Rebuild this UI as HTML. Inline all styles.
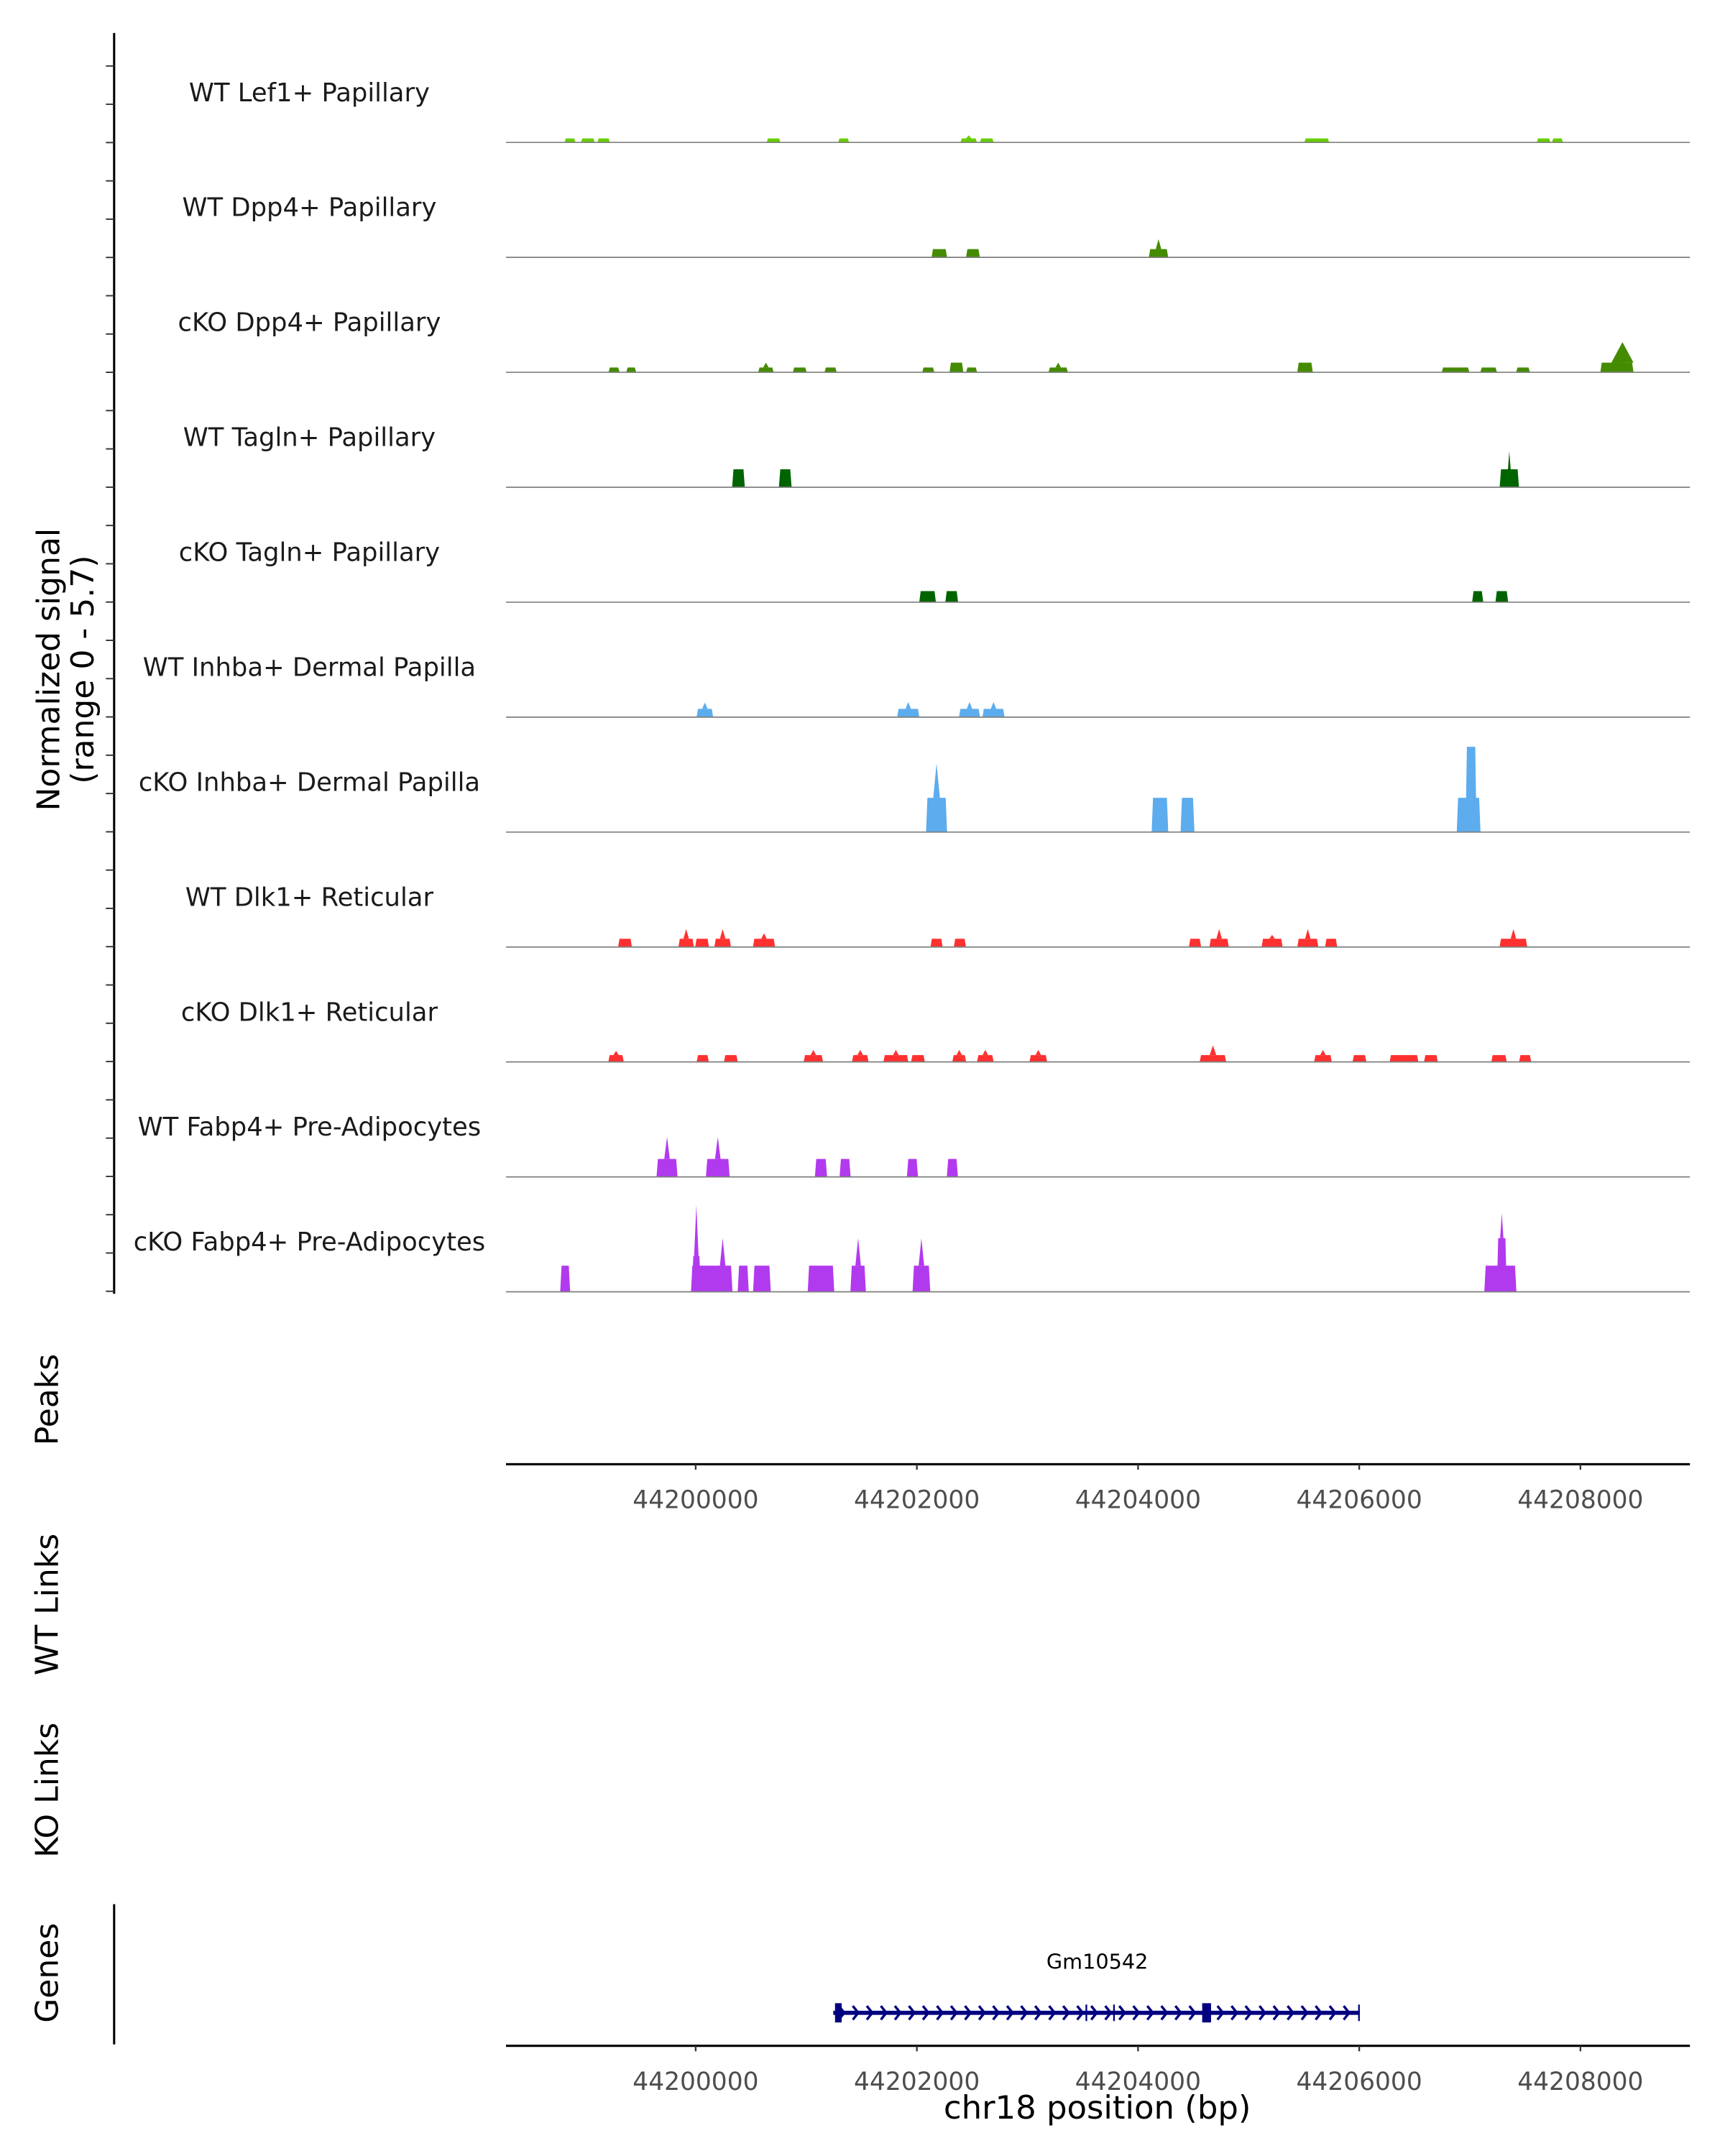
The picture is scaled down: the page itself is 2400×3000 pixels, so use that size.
<!DOCTYPE html>
<html><head><meta charset="utf-8">
<style>
html,body{margin:0;padding:0;background:#fff;}
svg{display:block;font-family:"DejaVu Sans","Liberation Sans",sans-serif;}
</style></head>
<body>
<svg id="chart" width="2400" height="3000" viewBox="0 0 1240 1550" xmlns="http://www.w3.org/2000/svg">
<g transform="scale(0.98843)">
<g id="tracks"></g>
<g id="frame"></g>
</g>
</svg>
<script>
// ---- data ----
const trackNames = ["WT Lef1+ Papillary","WT Dpp4+ Papillary","cKO Dpp4+ Papillary","WT Tagln+ Papillary","cKO Tagln+ Papillary","WT Inhba+ Dermal Papilla","cKO Inhba+ Dermal Papilla","WT Dlk1+ Reticular","cKO Dlk1+ Reticular","WT Fabp4+ Pre-Adipocytes","cKO Fabp4+ Pre-Adipocytes"];
const trackColors = ["#66CD00","#458B00","#458B00","#006400","#006400","#5CACEE","#5CACEE","#FF3030","#FF3030","#B23AEE","#B23AEE"];
const signalMax = 5.7;
const xTicks = [44200000,44202000,44204000,44206000,44208000];
const xDomain = [44198285,44208990];
const O = 44200000;
// peaks: [centerBp, widthBp, height, spikeHeight, spikeWidthBp]
const peaksLef1 = [[O-1136,100,0.2],[O-975,125,0.2],[O-832,113,0.2],[O+704,125,0.2],[O+1338,100,0.2],[O+2469,150,0.2,0.35],[O+2632,125,0.2],[O+5616,225,0.2],[O+7667,125,0.2],[O+7792,100,0.2]];
const peaksDpp4WT = [[O+2203,140,0.41],[O+2507,125,0.41],[O+4185,175,0.41,0.9]];
const peaksDpp4KO = [[O-738,100,0.24],[O-583,90,0.24],[O+635,140,0.24,0.48],[O+941,125,0.24],[O+1220,110,0.24],[O+2103,110,0.24],[O+2358,125,0.48],[O+2495,100,0.24],[O+3278,175,0.24,0.48],[O+5510,140,0.48],[O+6871,250,0.24],[O+7170,150,0.24],[O+7481,125,0.24],[O+8300,240,0.48],[O+8380,200,0.48,1.5,200]];
const peaksTaglnWT = [[O+387,115,0.89],[O+810,115,0.89],[O+7357,175,0.89,1.78,25]];
const peaksTaglnKO = [[O+2097,150,0.55],[O+2315,115,0.55],[O+7071,100,0.55],[O+7289,115,0.55]];
const peaksInhbaWT = [[O+83,150,0.41,0.72],[O+1922,200,0.41,0.75],[O+2476,190,0.41,0.75],[O+2693,200,0.41,0.75]];
const peaksInhbaKO = [[O+2178,190,1.7,3.4,60],[O+4198,150,1.7],[O+4447,125,1.7],[O+6989,215,1.7],[O+7011,100,4.23]];
const peaksDlk1WT = [[O-639,125,0.41],[O-86,140,0.41,0.89],[O+58,125,0.41],[O+244,150,0.41,0.89],[O+618,200,0.41,0.68],[O+2178,110,0.41],[O+2389,110,0.41],[O+4515,110,0.41],[O+4733,175,0.41,0.89],[O+5212,190,0.41,0.6],[O+5535,190,0.41,0.89],[O+5746,110,0.41],[O+7394,250,0.41,0.89]];
const peaksDlk1KO = [[O-720,140,0.34,0.55],[O+64,110,0.34],[O+318,125,0.34],[O+1064,175,0.34,0.6],[O+1488,150,0.34,0.6],[O+1810,225,0.34,0.6],[O+2010,125,0.34],[O+2383,125,0.34,0.6],[O+2619,150,0.34,0.6],[O+3098,160,0.34,0.6],[O+4677,240,0.34,0.82,60],[O+5672,160,0.34,0.6],[O+6002,125,0.34],[O+6337,125,0.34],[O+6455,160,0.34],[O+6648,125,0.34],[O+7264,140,0.34],[O+7500,110,0.34]];
const peaksFabp4WT = [[O-259,190,0.89,1.98],[O+200,215,0.89,1.98],[O+1133,110,0.89],[O+1351,100,0.89],[O+1960,100,0.89],[O+2321,100,0.89]];
const peaksFabp4KO = [[O-1180,90,1.3],[O+145,375,1.3],[O+6,80,1.78,4.3,40],[O+244,50,1.3,2.66],[O+430,100,1.3],[O+599,160,1.3],[O+1133,240,1.3],[O+1469,140,1.3,2.66],[O+2041,160,1.3,2.66],[O+7276,290,1.3],[O+7289,90,2.66,3.9,30]];
const trackPeaks = [peaksLef1,peaksDpp4WT,peaksDpp4KO,peaksTaglnWT,peaksTaglnKO,peaksInhbaWT,peaksInhbaKO,peaksDlk1WT,peaksDlk1KO,peaksFabp4WT,peaksFabp4KO];
const geneName = "Gm10542";
const geneStart = 44201244, geneEnd = 44206005;
const geneExons = [[44201260,44201320],[44203525,44203540],[44203775,44203790],[44204580,44204660],[44205990,44206005]];

// ---- scales ----
const NS="http://www.w3.org/2000/svg";
const plotL=368, plotR=1229;
const xS = bp => plotL + (bp - xDomain[0])/(xDomain[1]-xDomain[0])*(plotR-plotL);
const trackTop0 = 20, trackH = 83.6;
const baseY = i => trackTop0 + trackH*(i+1);
const yS = (i,v) => baseY(i) - v/signalMax*trackH;
function mk(tag, attrs, parent){const e=document.createElementNS(NS,tag);for(const k in attrs)e.setAttribute(k,attrs[k]);parent.appendChild(e);return e;}
const tracks=document.getElementById('tracks'), frame=document.getElementById('frame');

trackNames.forEach((name,i)=>{
  const g=mk('g',{},tracks);
  
  
  const lab=mk('text',{x:225,y:baseY(i)-30,'font-size':18.5,'text-anchor':'middle',fill:'#1a1a1a'},g);
  lab.textContent=name;
  
  
  trackPeaks[i].forEach(p=>{
    const [c,w,h,sh,sw]=p;
    const x0=xS(c-w/2), x1=xS(c+w/2), y=yS(i,h), b=baseY(i);
    const poly=mk('polygon',{points:`${x0},${b} ${x0+1},${y} ${x1-1},${y} ${x1},${b}`,fill:trackColors[i]},g);
    
    
    if(sh){
      const s=(sw||50)/2;
      const sp=mk('polygon',{points:`${xS(c-s)},${y} ${xS(c)},${yS(i,sh)} ${xS(c+s)},${y}`,fill:trackColors[i]},g);
      
      
    }
  });
  const bl=mk('line',{x1:plotL,x2:plotR,y1:baseY(i),y2:baseY(i),stroke:'#7f7f7f','stroke-width':0.9},g);
  
  
});

// left signal axis
const la=mk('line',{x1:83,x2:83,y1:24,y2:941,stroke:'#000','stroke-width':1.6},frame);


for(let k=0;k<=32;k++){const y=48+k*27.85;const t=mk('line',{x1:77,x2:83,y1:y,y2:y,stroke:'#333','stroke-width':1},frame);

}
function rtext(x,y,lines,size,name){const t=mk('text',{transform:`translate(${x},${y}) rotate(-90)`,'font-size':size,'text-anchor':'middle',fill:'#000'},frame);


lines.forEach((l,j)=>{const s=mk('tspan',{x:0,dy:j?25:0},t);s.textContent=l;});return t;}
rtext(43,487,["Normalized signal","(range 0 - 5.7)"],23,'y-axis-title');
rtext(42,1018,["Peaks"],23,'peaks-title');
rtext(42,1167,["WT Links"],23,'wt-links-title');
rtext(42,1302,["KO Links"],23,'ko-links-title');
rtext(42,1435,["Genes"],23,'genes-title');
const ga=mk('line',{x1:83,x2:83,y1:1385,y2:1487,stroke:'#000','stroke-width':1.6},frame);



function xaxis(y,name){
  const l=mk('line',{x1:plotL,x2:plotR,y1:y,y2:y,stroke:'#000','stroke-width':1.6},frame);
  
  
  xTicks.forEach(v=>{
    const t=mk('line',{x1:xS(v),x2:xS(v),y1:y,y2:y+4,stroke:'#333','stroke-width':1.2},frame);
    
    
    const tx=mk('text',{x:xS(v),y:y+32,'font-size':18,'text-anchor':'middle',fill:'#4d4d4d'},frame);
    tx.textContent=v;
    
    
  });
}
xaxis(1065,'peaks-x-axis');
xaxis(1488,'x-axis');
const xt=mk('text',{x:798,y:1541,'font-size':23.5,'text-anchor':'middle',fill:'#000'},frame);
xt.textContent="chr18 position (bp)";



// gene track
const gg=mk('g',{},frame);


const gy=1464;
const gl=mk('text',{x:798,y:1432,'font-size':15,'text-anchor':'middle',fill:'#000'},gg);
gl.textContent=geneName;


const gline=mk('line',{x1:xS(geneStart),x2:xS(geneEnd),y1:gy,y2:gy,stroke:'#000080','stroke-width':3},gg);


for(let x=xS(geneStart)+6;x<xS(geneEnd);x+=10.2){
  const a=mk('polyline',{points:`${x-2},${gy-5} ${x+2},${gy} ${x-2},${gy+5}`,fill:'none',stroke:'#000080','stroke-width':1.8},gg);
  
  
}
geneExons.forEach(e=>{
  const w=Math.max(1,xS(e[1])-xS(e[0]));
  const h=(e[1]-e[0])>50?14:12;
  const r=mk('rect',{x:xS(e[0]),y:gy-h/2,width:w,height:h,fill:'#000080'},gg);
  
  
});
</script>
</body></html>
